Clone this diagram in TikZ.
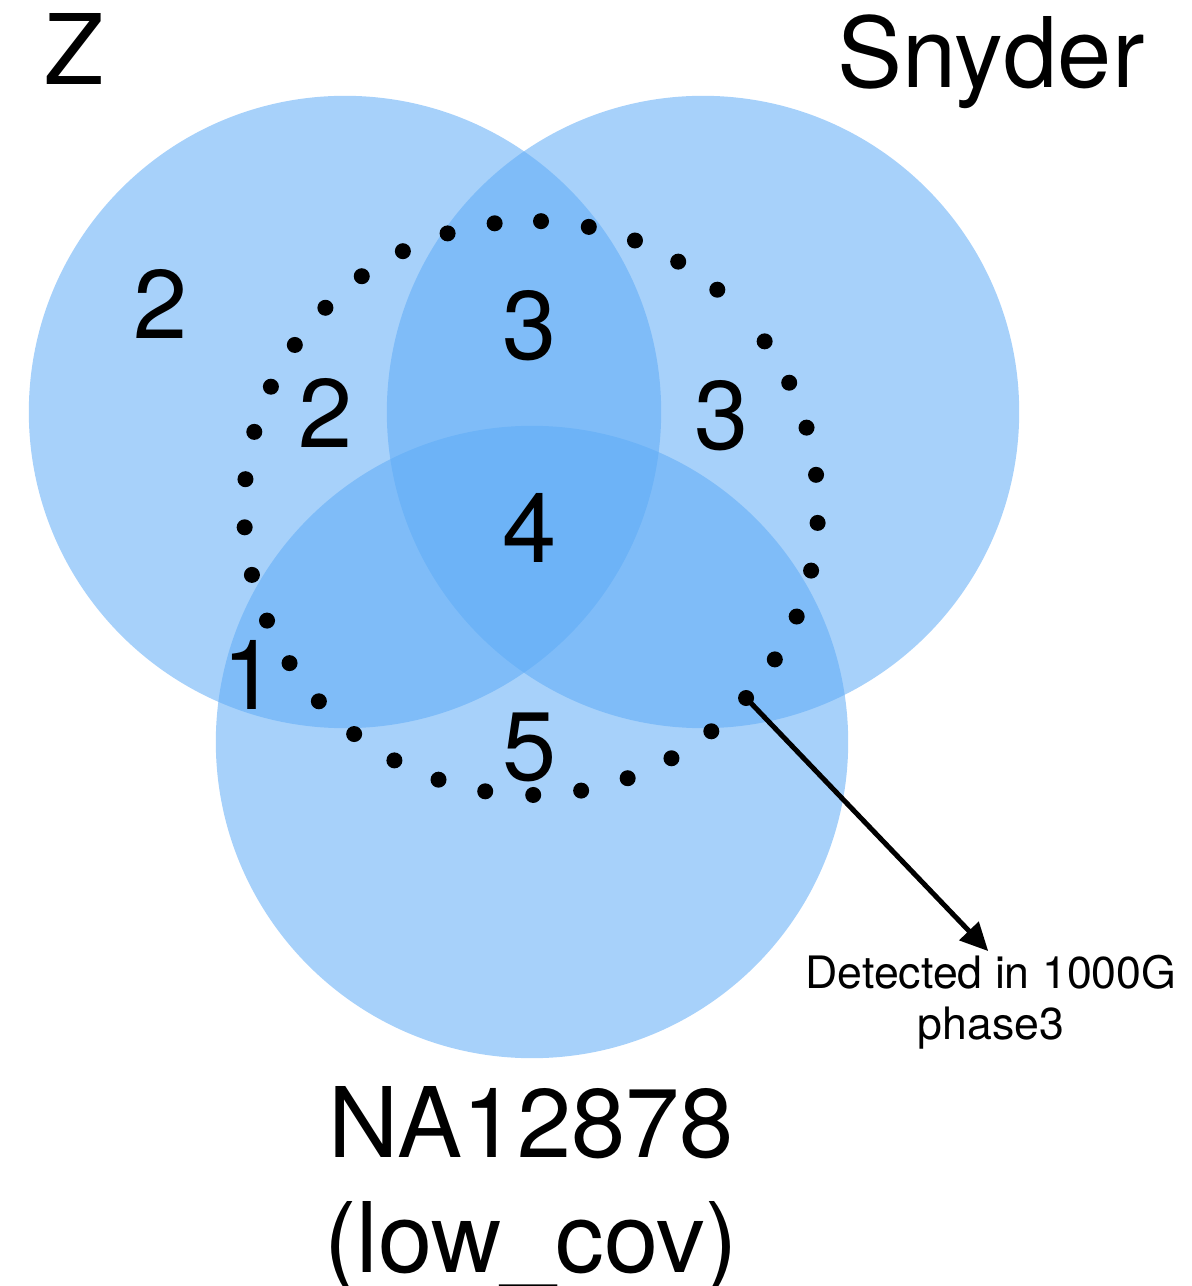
\documentclass[tikz,border=0pt]{standalone}
\usepackage{fontspec}
\setmainfont{TeX Gyre Heros}
\usepackage{tikz}
\usetikzlibrary{arrows.meta}
\definecolor{vennblue}{RGB}{94,171,246}

\begin{document}
\begin{tikzpicture}[x=0.01cm,y=-0.01cm,
  vennset/.style={circle,fill=vennblue,fill opacity=0.55,minimum size=6.32cm,inner sep=0},
  bigtext/.style={anchor=base,inner sep=0,font=\fontsize{27.7}{33}\selectfont},
  smalltext/.style={inner sep=0,align=center,font=\fontsize{12.7}{14.5}\selectfont},
  dotmark/.style={circle,fill=black,minimum size=0.16cm,inner sep=0}]
\useasboundingbox (0,0) rectangle (1192,1286);

\node [vennset] (zset) at (345,412) {};
\node [vennset] (snyder) at (703,412) {};
\node [vennset] (na) at (532,742) {};

% dotted ring
\foreach \k in {0,...,4}
  \node [dotmark] (a\k) at ({531+287*cos(88-9.62*\k)},{508-287*sin(88-9.62*\k)}) {};
\foreach \k in {0,...,31}
  \node [dotmark] (b\k) at ({531+287*cos(35.5-9.62*\k)},{508-287*sin(35.5-9.62*\k)}) {};

\node [bigtext] (zname) at (74.5,85) {Z};
\node [bigtext] (snydername) at (991,88) {Snyder};
\node [bigtext] (naname) at (531,1157) {NA12878};
\node [bigtext] (covname) at (531,1272) {(low\_cov)};

\node [bigtext] (n2a) at (161,339) {2};
\node [bigtext] (n2b) at (326,448) {2};
\node [bigtext] (n3a) at (530,360) {3};
\node [bigtext] (n3b) at (722,450) {3};
\node [bigtext] (n4) at (530,562) {4};
\node [bigtext] (n1) at (250,709) {1};
\node [bigtext] (n5) at (530,780) {5};

\node [smalltext,anchor=north] (note) at (991,954) {Detected in 1000G\\phase3};
\draw [line width=0.05cm,-{Triangle[length=0.28cm,width=0.26cm]},shorten >=0.04cm] (b8.center) -- (note.north);
\end{tikzpicture}
\end{document}
